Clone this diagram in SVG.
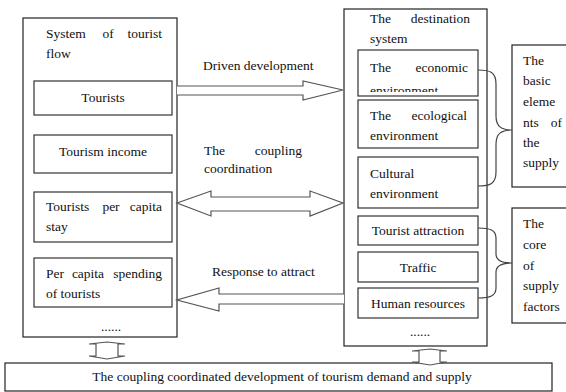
<svg xmlns="http://www.w3.org/2000/svg" width="566" height="392" viewBox="0 0 566 392" font-family="'Liberation Serif', 'DejaVu Serif', serif" font-size="13.5">
<style>
.box{fill:#fff;stroke:#222;stroke-width:1.2}
.ibox{fill:#fff;stroke:#333;stroke-width:1.2}
.arr{fill:#fff;stroke:#555;stroke-width:1.2}
.br{fill:none;stroke:#444;stroke-width:1.2}
text{fill:#111}
.m{text-anchor:middle}
.e{text-anchor:end}
</style>
<defs>
<clipPath id="clipEco"><rect x="358" y="50" width="120" height="42"/></clipPath>
</defs>
<rect x="0" y="0" width="566" height="392" fill="#fff"/>

<g id="tourist-flow">
<rect class="box" x="23" y="18" width="154" height="319"/>
<text x="46" y="38">System</text><text class="m" x="108" y="38">of</text><text class="e" x="162" y="38">tourist</text>
<text x="46" y="58">flow</text>
<text class="m" x="111" y="331">......</text>
</g>
<g id="tourists"><rect class="ibox" x="34" y="81" width="138" height="34"/><text class="m" x="103" y="102">Tourists</text></g>
<g id="tourism-income"><rect class="ibox" x="34" y="135" width="138" height="38"/><text class="m" x="103" y="156">Tourism income</text></g>
<g id="per-capita-stay"><rect class="ibox" x="34" y="192" width="138" height="50"/>
<text x="46" y="211">Tourists</text><text class="m" x="111" y="211">per</text><text class="e" x="162" y="211">capita</text>
<text x="46" y="231">stay</text></g>
<g id="per-capita-spending"><rect class="ibox" x="34" y="258" width="138" height="49"/>
<text x="46" y="278">Per</text><text class="m" x="88" y="278">capita</text><text class="e" x="162" y="278">spending</text>
<text x="46" y="298">of tourists</text></g>

<g id="destination">
<rect class="box" x="344" y="9" width="143" height="337"/>
<text x="370" y="23">The</text><text class="e" x="470" y="23">destination</text>
<text x="370" y="43">system</text>
<text class="m" x="420" y="336">......</text>
</g>
<g id="economic"><rect class="ibox" x="358" y="50" width="120" height="46"/>
<text x="370" y="72">The</text><text class="e" x="468" y="72">economic</text>
<text x="370" y="95" clip-path="url(#clipEco)">environment</text></g>
<g id="ecological"><rect class="ibox" x="358" y="100" width="120" height="48"/>
<text x="370" y="120">The</text><text class="e" x="467" y="120">ecological</text>
<text x="370" y="140">environment</text></g>
<g id="cultural"><rect class="ibox" x="358" y="157" width="120" height="51"/>
<text x="370" y="178">Cultural</text><text x="370" y="198">environment</text></g>
<g id="attraction"><rect class="ibox" x="358" y="216" width="120" height="29"/><text class="m" x="418" y="235">Tourist attraction</text></g>
<g id="traffic"><rect class="ibox" x="358" y="252" width="120" height="30"/><text class="m" x="418" y="272">Traffic</text></g>
<g id="human"><rect class="ibox" x="358" y="288" width="120" height="30"/><text class="m" x="418" y="308">Human resources</text></g>

<g id="basic-elements"><rect class="box" x="512" y="45" width="60" height="142"/>
<text x="523" y="65">The</text><text x="523" y="85">basic</text><text x="523" y="106">eleme</text>
<text x="523" y="127">nts</text><text class="e" x="562" y="127">of</text>
<text x="523" y="147">the</text><text x="523" y="167">supply</text></g>
<g id="core-factors"><rect class="box" x="512" y="208" width="60" height="115"/>
<text x="523" y="228">The</text><text x="523" y="249">core</text><text x="523" y="270">of</text>
<text x="523" y="290">supply</text><text x="523" y="311">factors</text></g>

<g id="result"><rect class="box" x="5" y="363" width="547" height="28"/>
<text class="m" x="282" y="381">The coupling coordinated development of tourism demand and supply</text></g>

<g id="connectors">
<path class="arr" d="M177,86 H303 V81 L343,90 L303,100 V95 H177"/>
<path class="arr" d="M177,203 L211,191 V197 H310 V191 L343,203 L310,216 V211 H211 V216 Z"/>
<path class="arr" d="M344,294 H219 V288 L177,300 L219,311 V304 H344"/>
<path class="br" d="M478,70 C490,70 496,72 496,84 V116 C496,127 502,130 512,130 C502,130 496,133 496,144 V172 C496,184 490,186 478,186"/>
<path class="br" d="M478,228 C490,228 496,230 496,238 V254 C496,261 502,263 512,263 C502,263 496,265 496,272 V288 C496,296 490,298 478,298"/>
<path class="arr" d="M107,342 L125,344 H118 V356 H125 L107,359 L89,356 H96 V344 H89 Z"/>
<path class="arr" d="M430,349 L447,351 H440 V362 H447 L430,365 L412,362 H419 V351 H412 Z"/>
<text x="203" y="70">Driven development</text>
<text x="204" y="155">The</text><text class="e" x="302" y="155">coupling</text>
<text x="204" y="173">coordination</text>
<text x="212" y="276">Response to attract</text>
</g>
</svg>
